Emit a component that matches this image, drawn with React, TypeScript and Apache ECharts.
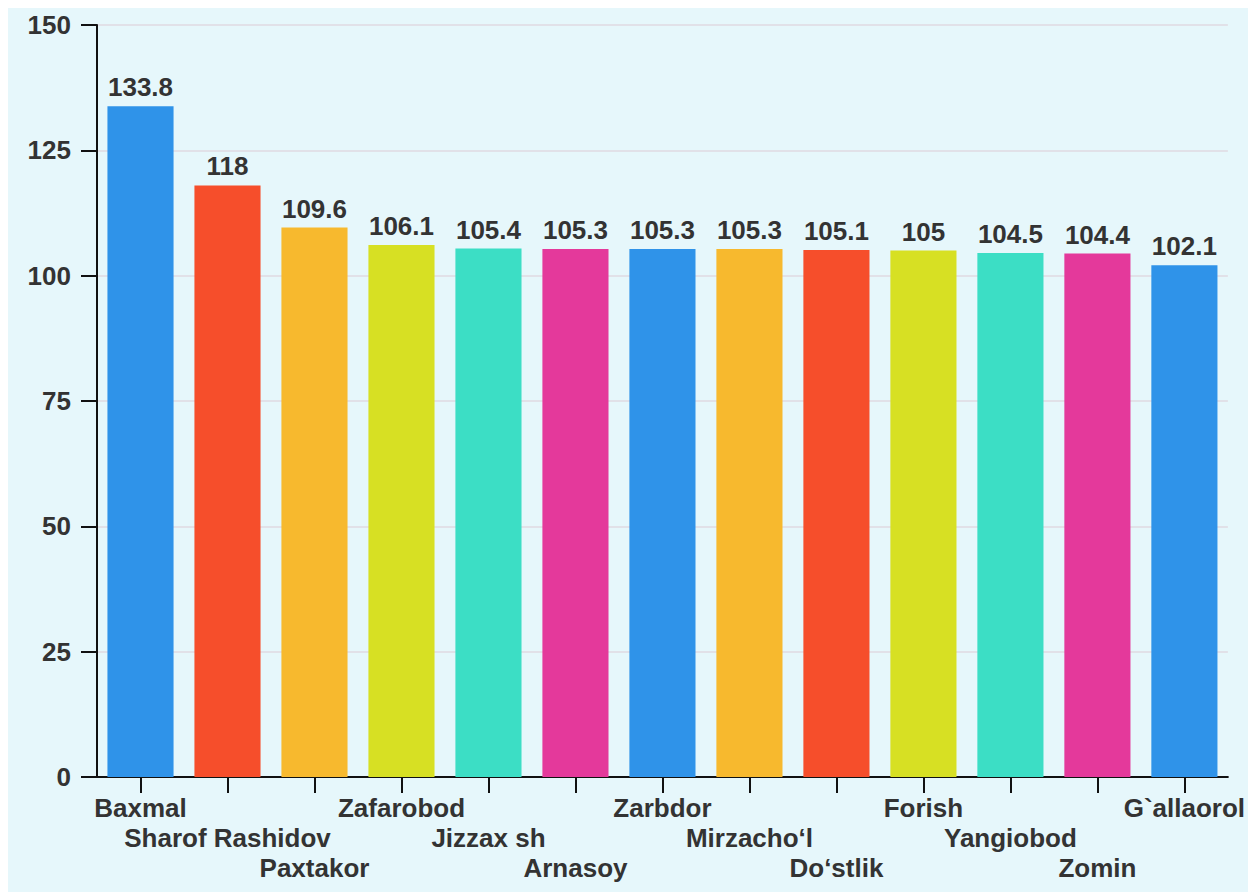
import React, { useEffect, useRef } from "react";
import * as echarts from "echarts";

const categories = [
  "Baxmal",
  "Sharof Rashidov",
  "Paxtakor",
  "Zafarobod",
  "Jizzax sh",
  "Arnasoy",
  "Zarbdor",
  "Mirzacho‘l",
  "Do‘stlik",
  "Forish",
  "Yangiobod",
  "Zomin",
  "G`allaorol",
];
const values = [133.8, 118, 109.6, 106.1, 105.4, 105.3, 105.3, 105.3, 105.1, 105, 104.5, 104.4, 102.1];
const barColors = [
  "#2f93e9",
  "#f64e2b",
  "#f7b92e",
  "#d7e023",
  "#3cdec5",
  "#e4399b",
  "#2f93e9",
  "#f7b92e",
  "#f64e2b",
  "#d7e023",
  "#3cdec5",
  "#e4399b",
  "#2f93e9",
];
const yMin = 0;
const yMax = 150;
const yInterval = 25;

const FONT = "Arial, 'Liberation Sans', Helvetica, sans-serif";
const TEXT = "#333333";

export default function App() {
  const ref = useRef<HTMLDivElement>(null);
  useEffect(() => {
    if (!ref.current) return;
    const chart = echarts.init(ref.current, undefined, { renderer: "svg" });
    chart.setOption({
      animation: false,
      backgroundColor: "#e6f7fb",
      textStyle: { fontFamily: FONT },
      grid: { left: 89, right: 18, top: 17, bottom: 115, containLabel: false },
      xAxis: {
        type: "category",
        data: categories,
        axisLine: { show: true, lineStyle: { color: "#111", width: 2 } },
        axisTick: { show: true, alignWithLabel: true, length: 16, lineStyle: { color: "#111", width: 2 } },
        axisLabel: {
          interval: 0,
          margin: 16,
          color: TEXT,
          fontWeight: "bold",
          fontSize: 26,
          lineHeight: 30,
          fontFamily: FONT,
          formatter: (v: string, i: number) => "\n".repeat(i % 3) + v,
        },
      },
      yAxis: {
        type: "value",
        min: yMin,
        max: yMax,
        interval: yInterval,
        axisLine: { show: true, lineStyle: { color: "#111", width: 2 } },
        axisTick: { show: true, length: 16, lineStyle: { color: "#111", width: 2 } },
        axisLabel: {
          margin: 26,
          color: TEXT,
          fontWeight: "bold",
          fontSize: 26,
          fontFamily: FONT,
        },
        splitLine: { show: true, lineStyle: { color: "#e1e1e8", width: 2 } },
      },
      series: [
        {
          type: "bar",
          data: values.map((v, i) => ({ value: v, itemStyle: { color: barColors[i] } })),
          barCategoryGap: "24%",
          label: {
            show: true,
            position: "top",
            distance: 6,
            color: TEXT,
            fontWeight: "bold",
            fontSize: 26,
            fontFamily: FONT,
          },
        },
      ],
    });
    return () => chart.dispose();
  }, []);
  return (
    <div
      ref={ref}
      style={{ position: "fixed", left: 8, top: 8, width: 1240, height: 884 }}
    />
  );
}
